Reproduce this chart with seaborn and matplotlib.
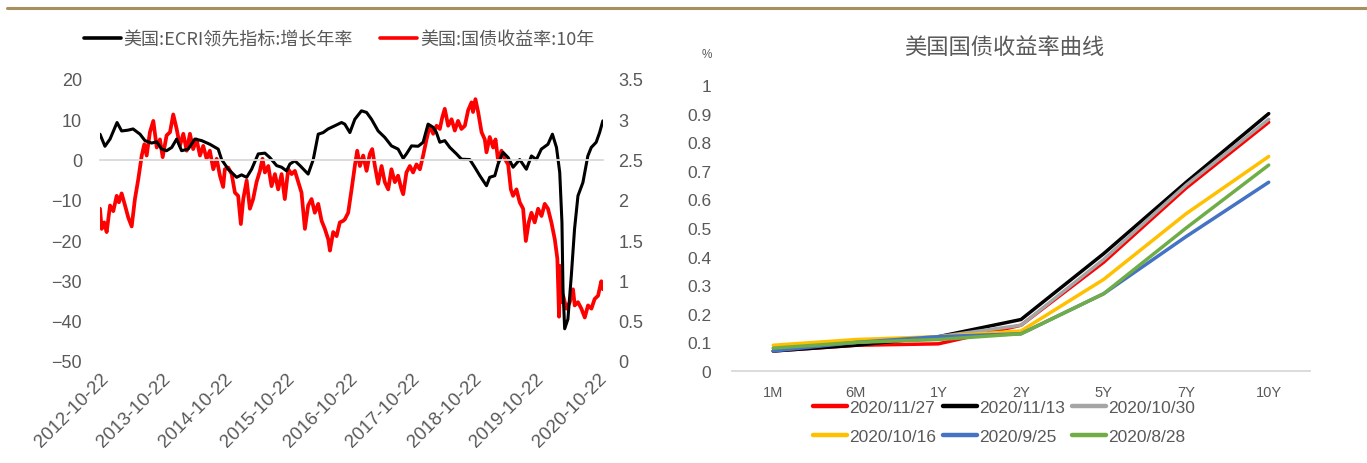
import matplotlib
matplotlib.use("Agg")
import matplotlib.pyplot as plt
import matplotlib.dates as mdates
from matplotlib.lines import Line2D
from matplotlib import font_manager
import seaborn as sns
import pandas as pd

# ---------------- data ----------------
# US ECRI weekly leading index, growth rate (left axis)
ecri_dates = [
    "2012-10-22", "2012-11-20", "2012-12-20", "2013-01-30", "2013-02-26", "2013-04-04", "2013-05-04", "2013-06-14", "2013-07-13", "2013-08-21",
    "2013-09-20", "2013-10-19", "2013-11-17", "2013-12-17", "2014-01-15", "2014-02-13", "2014-03-24", "2014-05-02", "2014-06-11", "2014-07-29",
    "2014-09-16", "2014-10-06", "2014-11-14", "2015-01-02", "2015-01-31", "2015-03-02", "2015-03-31", "2015-05-09", "2015-06-17", "2015-07-16",
    "2015-08-25", "2015-09-23", "2015-10-22", "2015-11-11", "2015-12-10", "2016-01-09", "2016-02-26", "2016-03-27", "2016-04-25", "2016-05-24",
    "2016-06-22", "2016-08-01", "2016-09-09", "2016-09-28", "2016-10-28", "2016-11-26", "2017-01-04", "2017-02-03", "2017-03-04", "2017-04-12",
    "2017-05-21", "2017-06-29", "2017-08-07", "2017-09-06", "2017-09-25", "2017-10-25", "2017-12-03", "2018-01-01", "2018-01-30", "2018-03-01",
    "2018-03-20", "2018-04-09", "2018-05-08", "2018-06-07", "2018-07-16", "2018-08-14", "2018-10-02", "2018-10-31", "2018-11-30", "2019-01-08",
    "2019-01-27", "2019-02-26", "2019-03-17", "2019-04-15", "2019-05-15", "2019-06-13", "2019-07-22", "2019-08-30", "2019-09-29", "2019-10-28",
    "2019-11-26", "2020-01-04", "2020-01-30", "2020-02-23", "2020-03-13", "2020-03-26", "2020-04-01", "2020-04-11", "2020-04-30", "2020-05-20",
    "2020-06-08", "2020-06-28", "2020-07-27", "2020-08-25", "2020-09-14", "2020-10-13", "2020-11-02", "2020-11-21",
]
ecri_growth = [
    6.3, 3.3, 5.1, 9.2, 7.1, 7.3, 7.6, 6.3, 4.7, 4.1,
    4.4, 2.6, 2.2, 3.0, 5.1, 2.2, 2.6, 5.1, 4.7, 3.8,
    2.6, 0.0, -2.4, -4.4, -3.8, -4.4, -2.4, 1.4, 1.6, 0.5,
    -1.5, -1.9, -2.8, -1.1, -0.3, -1.5, -3.6, 0.0, 6.3, 6.7,
    7.6, 8.4, 9.2, 8.8, 6.7, 10.0, 12.1, 11.7, 10.0, 7.1,
    5.5, 3.4, 2.6, 0.3, 1.4, 3.4, 3.3, 4.3, 8.8, 8.0,
    6.7, 4.3, 4.7, 3.0, 1.4, 0.1, 0.0, -1.9, -4.0, -6.5,
    -4.4, -4.0, -1.1, 1.8, 0.5, -1.9, 0.0, -2.4, 0.9, 0.0,
    2.6, 3.8, 6.3, 3.0, -3.2, -15.6, -32.0, -42.0, -39.6, -28.8,
    -17.2, -9.0, -5.7, 0.9, 3.0, 4.3, 6.7, 9.6,
]

# US Treasury 10-year yield, % (right axis)
yield_dates = [
    "2012-10-22", "2012-11-01", "2012-11-16", "2012-11-30", "2012-12-20", "2013-01-08", "2013-01-28", "2013-02-10", "2013-02-26", "2013-03-18",
    "2013-04-06", "2013-04-26", "2013-05-15", "2013-06-04", "2013-06-24", "2013-07-09", "2013-07-23", "2013-08-11", "2013-08-31", "2013-09-20",
    "2013-10-09", "2013-10-25", "2013-11-17", "2013-12-07", "2013-12-26", "2014-01-15", "2014-02-03", "2014-02-23", "2014-03-15", "2014-04-03",
    "2014-04-22", "2014-05-12", "2014-06-01", "2014-06-20", "2014-07-10", "2014-07-29", "2014-08-18", "2014-09-07", "2014-09-26", "2014-10-15",
    "2014-10-25", "2014-11-14", "2014-12-04", "2014-12-23", "2015-01-11", "2015-01-27", "2015-02-10", "2015-03-02", "2015-03-21", "2015-04-09",
    "2015-04-29", "2015-05-19", "2015-06-03", "2015-06-17", "2015-07-07", "2015-07-26", "2015-08-15", "2015-09-03", "2015-09-23", "2015-10-12",
    "2015-11-01", "2015-11-21", "2015-12-10", "2015-12-30", "2016-01-18", "2016-02-07", "2016-02-26", "2016-03-17", "2016-04-05", "2016-04-25",
    "2016-05-15", "2016-06-03", "2016-06-23", "2016-07-03", "2016-07-22", "2016-08-11", "2016-08-30", "2016-09-19", "2016-09-29", "2016-10-18",
    "2016-11-07", "2016-11-26", "2016-12-10", "2016-12-26", "2017-01-14", "2017-02-03", "2017-02-22", "2017-03-08", "2017-03-24", "2017-04-12",
    "2017-05-02", "2017-05-21", "2017-06-10", "2017-06-29", "2017-07-19", "2017-08-07", "2017-08-27", "2017-09-06", "2017-09-25", "2017-10-15",
    "2017-11-03", "2017-11-23", "2017-12-13", "2018-01-01", "2018-01-21", "2018-02-09", "2018-03-01", "2018-03-21", "2018-04-09", "2018-04-23",
    "2018-05-08", "2018-05-28", "2018-06-17", "2018-07-06", "2018-07-25", "2018-08-14", "2018-09-03", "2018-09-22", "2018-10-12", "2018-10-21",
    "2018-11-04", "2018-11-20", "2018-12-10", "2018-12-29", "2019-01-08", "2019-01-27", "2019-02-16", "2019-03-02", "2019-03-17", "2019-04-06",
    "2019-04-25", "2019-05-15", "2019-05-31", "2019-06-13", "2019-07-03", "2019-07-22", "2019-08-11", "2019-08-27", "2019-09-13", "2019-09-29",
    "2019-10-18", "2019-11-07", "2019-11-27", "2019-12-16", "2020-01-04", "2020-01-24", "2020-02-13", "2020-02-28", "2020-03-09", "2020-03-16",
    "2020-03-23", "2020-04-02", "2020-04-21", "2020-05-11", "2020-05-30", "2020-06-09", "2020-06-28", "2020-07-18", "2020-08-07", "2020-08-26",
    "2020-09-15", "2020-10-04", "2020-10-24", "2020-11-12", "2020-11-22",
]
yield_10y = [
    1.89, 1.64, 1.72, 1.60, 1.93, 1.86, 2.05, 1.97, 2.08, 1.93,
    1.78, 1.67, 2.01, 2.26, 2.55, 2.69, 2.55, 2.84, 2.98, 2.65,
    2.75, 2.53, 2.80, 2.84, 3.06, 2.88, 2.67, 2.82, 2.61, 2.82,
    2.63, 2.75, 2.55, 2.67, 2.51, 2.61, 2.38, 2.51, 2.30, 2.16,
    2.38, 2.40, 2.32, 2.09, 2.05, 1.70, 2.01, 2.24, 1.89, 2.01,
    2.22, 2.36, 2.51, 2.34, 2.42, 2.17, 2.32, 2.13, 2.32, 2.01,
    2.38, 2.32, 2.36, 2.22, 2.09, 1.64, 1.93, 2.01, 1.84, 1.95,
    1.74, 1.64, 1.51, 1.37, 1.60, 1.55, 1.72, 1.74, 1.76, 1.84,
    2.13, 2.42, 2.61, 2.42, 2.55, 2.36, 2.57, 2.63, 2.42, 2.20,
    2.42, 2.22, 2.13, 2.38, 2.22, 2.30, 2.13, 2.07, 2.34, 2.42,
    2.34, 2.44, 2.38, 2.55, 2.75, 2.92, 2.82, 2.92, 2.88, 3.02,
    3.13, 2.92, 3.00, 2.86, 2.98, 2.88, 2.92, 3.11, 3.21, 3.09,
    3.25, 3.09, 2.84, 2.75, 2.59, 2.78, 2.65, 2.75, 2.49, 2.61,
    2.51, 2.44, 2.13, 2.05, 2.13, 1.97, 1.89, 1.49, 1.72, 1.84,
    1.72, 1.89, 1.80, 1.95, 1.89, 1.72, 1.51, 1.27, 0.55, 1.18,
    0.73, 0.81, 0.65, 0.73, 0.89, 0.69, 0.73, 0.65, 0.54, 0.69,
    0.65, 0.77, 0.81, 0.99, 0.89,
]

# Treasury curve snapshots (%)
tenors = ["1M", "6M", "1Y", "2Y", "5Y", "7Y", "10Y"]
curve_dates = ["2020/11/27", "2020/11/13", "2020/10/30", "2020/10/16", "2020/9/25", "2020/8/28"]
curve_1127 = [0.07, 0.09, 0.095, 0.16, 0.38, 0.64, 0.87]
curve_1113 = [0.07, 0.09, 0.12, 0.18, 0.41, 0.66, 0.90]
curve_1030 = [0.08, 0.10, 0.12, 0.16, 0.39, 0.65, 0.88]
curve_1016 = [0.09, 0.11, 0.12, 0.14, 0.32, 0.55, 0.75]
curve_0925 = [0.07, 0.10, 0.12, 0.13, 0.27, 0.47, 0.66]
curve_0828 = [0.08, 0.10, 0.11, 0.13, 0.27, 0.50, 0.72]
curve_colors = ["#FF0000", "#000000", "#A5A5A5", "#FFC000", "#4472C4", "#70AD47"]

# ---------------- style ----------------
sns.set_theme(style="white")
installed = {f.name for f in font_manager.fontManager.ttflist}
NUM_FONT = "Liberation Sans Narrow" if "Liberation Sans Narrow" in installed else "Liberation Sans"
CJK = ["Noto Sans CJK SC", "DejaVu Sans"]
plt.rcParams["font.family"] = [NUM_FONT, "Noto Sans CJK SC", "DejaVu Sans"]
plt.rcParams["axes.unicode_minus"] = True
GREY_TXT = "#595959"
GREY_LINE = "#D9D9D9"

fig = plt.figure(figsize=(13.67, 4.64), dpi=100)
fig.patch.set_facecolor("white")

# thin rule across the top of the page
fig.add_artist(Line2D([0.005, 1.0], [0.981, 0.981], transform=fig.transFigure,
                      color="#A88F5E", lw=2.2))

# ---------------- left: ECRI vs 10Y yield ----------------
ax = fig.add_axes([100 / 1367, 1 - 362 / 464, 503 / 1367, 282 / 464])
ax2 = ax.twinx()

ecri_df = pd.DataFrame({"date": pd.to_datetime(ecri_dates), "value": ecri_growth})
yld_df = pd.DataFrame({"date": pd.to_datetime(yield_dates), "value": yield_10y})

sns.lineplot(data=yld_df, x="date", y="value", ax=ax2, color="#FF0000", linewidth=2.7)
sns.lineplot(data=ecri_df, x="date", y="value", ax=ax, color="#000000", linewidth=2.2)

ax.set_zorder(ax2.get_zorder() + 1)
ax.patch.set_visible(False)

ax.set_ylim(-50, 20)
ax.set_yticks(range(-50, 21, 10))
ax2.set_ylim(0, 3.5)
ax2.set_yticks([0, 0.5, 1, 1.5, 2, 2.5, 3, 3.5])
ax2.set_yticklabels(["0", "0.5", "1", "1.5", "2", "2.5", "3", "3.5"])

x0 = pd.Timestamp("2012-10-22")
x1 = pd.Timestamp("2020-11-22")
ax.set_xlim(x0, x1)
ax2.set_xlim(x0, x1)
year_ticks = pd.date_range("2012-10-22", periods=9, freq=pd.DateOffset(years=1))

for a in (ax, ax2):
    a.set_xlabel("")
    a.set_ylabel("")
    for s in a.spines.values():
        s.set_visible(False)

# zero line carries the yearly tick marks
ax.spines["bottom"].set_visible(True)
ax.spines["bottom"].set_position(("data", 0))
ax.spines["bottom"].set_color(GREY_LINE)
ax.spines["bottom"].set_linewidth(1.3)
ax.set_xticks(year_ticks)
ax.tick_params(axis="x", length=4, width=1, color=GREY_LINE, labelbottom=False, direction="out")
ax.tick_params(axis="y", length=0, pad=13, labelsize=13, labelcolor=GREY_TXT)

# date labels sit along the bottom edge
ax2.xaxis.set_visible(True)
ax2.set_xticks(year_ticks)
ax2.xaxis.set_major_formatter(mdates.DateFormatter("%Y-%m-%d"))
ax2.tick_params(axis="x", length=0, pad=6, labelsize=13.5, labelcolor=GREY_TXT, labelbottom=True)
for lab in ax2.get_xticklabels():
    lab.set_rotation(45)
    lab.set_ha("right")
    lab.set_va("top")
    lab.set_rotation_mode("anchor")
ax2.tick_params(axis="y", length=0, pad=11, labelsize=13, labelcolor=GREY_TXT)

left_handles = [Line2D([], [], color="#000000", lw=2.6), Line2D([], [], color="#FF0000", lw=2.6)]
fig.legend(left_handles, ["美国:ECRI领先指标:增长年率", "美国:国债收益率:10年"],
           loc="center", bbox_to_anchor=(339 / 1367, 1 - 40 / 464), ncol=2, frameon=False,
           prop={"family": CJK, "size": 13}, labelcolor=GREY_TXT,
           handlelength=2.05, handletextpad=0.15, columnspacing=1.5, borderpad=0)

# ---------------- right: Treasury yield curve ----------------
ax3 = fig.add_axes([732 / 1367, 1 - 372 / 464, 578 / 1367, 286 / 464])

curve_values = [curve_1127, curve_1113, curve_1030, curve_1016, curve_0925, curve_0828]
curve_df = pd.DataFrame(
    [(d, t, v) for d, vals in zip(curve_dates, curve_values) for t, v in zip(tenors, vals)],
    columns=["日期", "期限", "收益率"],
)
sns.lineplot(data=curve_df, x="期限", y="收益率", hue="日期", hue_order=curve_dates,
             palette=curve_colors, sort=False, linewidth=2.5, ax=ax3, legend=False)

ax3.set_xlim(-0.5, len(tenors) - 0.5)
ax3.set_ylim(0, 1)
ax3.set_xticks(range(len(tenors)))
ax3.set_xticklabels(tenors)
ax3.set_xticks([i - 0.5 for i in range(len(tenors) + 1)], minor=True)
ax3.set_yticks([i / 10 for i in range(11)])
ax3.set_yticklabels(["0"] + [f"{i / 10:.1f}" for i in range(1, 10)] + ["1"])
ax3.set_xlabel("")
ax3.set_ylabel("")
for side in ("left", "top", "right"):
    ax3.spines[side].set_visible(False)
ax3.spines["bottom"].set_color(GREY_LINE)
ax3.spines["bottom"].set_linewidth(1.3)
ax3.tick_params(axis="x", which="major", length=0, pad=10, labelsize=10.5, labelcolor=GREY_TXT)
ax3.tick_params(axis="x", which="minor", length=7, width=1, color=GREY_LINE, direction="out")
ax3.tick_params(axis="y", length=0, pad=15, labelsize=12.5, labelcolor=GREY_TXT)

fig.text(1004 / 1367, 1 - 47 / 464, "美国国债收益率曲线", ha="center", va="center",
         fontsize=16, color=GREY_TXT, family=CJK)
fig.text(707 / 1367, 1 - 55 / 464, "%", ha="center", va="center", fontsize=8.5, color=GREY_TXT)

curve_handles = [Line2D([], [], color=c, lw=3.2) for c in curve_colors]
order = [0, 3, 1, 4, 2, 5]  # fill the three columns row by row
fig.legend([curve_handles[i] for i in order], [curve_dates[i] for i in order],
           loc="center", bbox_to_anchor=(1004 / 1367, 1 - 423 / 464), ncol=3, frameon=False,
           prop={"family": NUM_FONT, "size": 12.5}, labelcolor=GREY_TXT,
           handlelength=1.95, handletextpad=0.12, columnspacing=0.4, labelspacing=0.75, borderpad=0)

fig.savefig("out.png", dpi=100, facecolor="white")
